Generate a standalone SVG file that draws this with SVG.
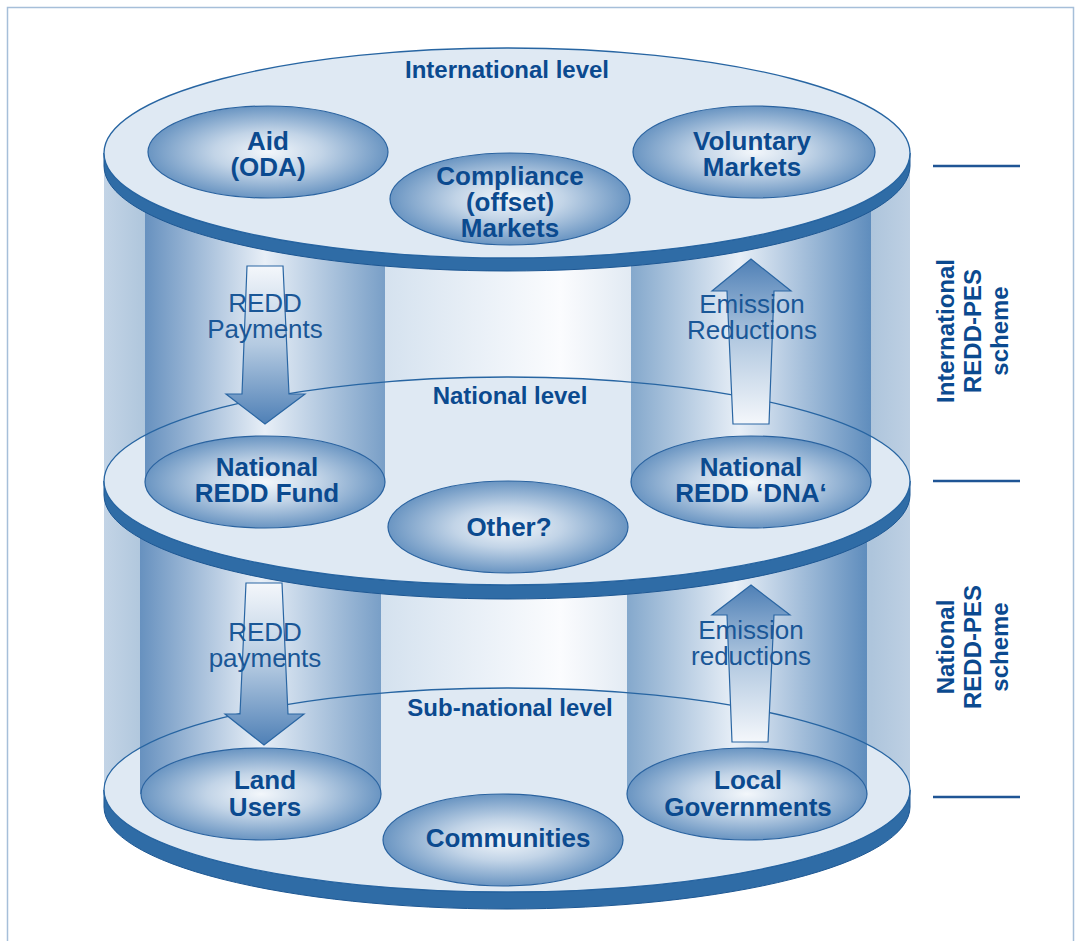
<svg xmlns="http://www.w3.org/2000/svg" width="1078" height="941" viewBox="0 0 1078 941">
<defs>
<linearGradient id="gBody" x1="0" y1="0" x2="1" y2="0">
<stop offset="0" stop-color="#c3d4e6"/>
<stop offset="0.051" stop-color="#afc6dc"/>
<stop offset="0.349" stop-color="#d5e2ef"/>
<stop offset="0.566" stop-color="#fbfcfe"/>
<stop offset="0.653" stop-color="#e2eaf3"/>
<stop offset="0.952" stop-color="#aec5dc"/>
<stop offset="1" stop-color="#bed0e3"/>
</linearGradient>
<linearGradient id="gColL" x1="0" y1="0" x2="1" y2="0">
<stop offset="0" stop-color="#6791bf"/>
<stop offset="0.5" stop-color="#e8eff7"/>
<stop offset="1" stop-color="#799fc7"/>
</linearGradient>
<linearGradient id="gColR" x1="0" y1="0" x2="1" y2="0">
<stop offset="0" stop-color="#84a8cc"/>
<stop offset="0.45" stop-color="#e8eff7"/>
<stop offset="1" stop-color="#5f8dbd"/>
</linearGradient>
<radialGradient id="gNode" cx="0.5" cy="0.5" r="0.5">
<stop offset="0" stop-color="#f3f7fb"/>
<stop offset="0.45" stop-color="#c2d4e7"/>
<stop offset="1" stop-color="#6a95c2"/>
</radialGradient>
<linearGradient id="gDown" x1="0" y1="0" x2="0" y2="1">
<stop offset="0" stop-color="#f4f7fb"/>
<stop offset="0.5" stop-color="#b4cae1"/>
<stop offset="1" stop-color="#4f80b6"/>
</linearGradient>
<linearGradient id="gUp" x1="0" y1="1" x2="0" y2="0">
<stop offset="0" stop-color="#f4f7fb"/>
<stop offset="0.5" stop-color="#b4cae1"/>
<stop offset="1" stop-color="#4f80b6"/>
</linearGradient>
<style>
.band{fill:#2f6ca6;stroke:#1d5793;stroke-width:1}
.surf{fill:#dfe9f3}
.outl{fill:none;stroke:#2765a2;stroke-width:1.3}
.colL{fill:url(#gColL)}
.colR{fill:url(#gColR)}
.node ellipse{fill:url(#gNode);stroke:#2a63a0;stroke-width:1.2}
.arrow{stroke:#2a66a3;stroke-width:1.2}
.nb{font-family:"Liberation Sans",Arial,sans-serif;font-weight:bold;font-size:26px;fill:#0b4a8f;text-anchor:middle}
.lv{font-family:"Liberation Sans",Arial,sans-serif;font-weight:bold;font-size:24px;fill:#0b4a8f;text-anchor:middle}
.fl{font-family:"Liberation Sans",Arial,sans-serif;font-size:26px;fill:#1a5797;text-anchor:middle}
.vt{font-family:"Liberation Sans",Arial,sans-serif;font-weight:bold;font-size:24px;fill:#0b4a8f;text-anchor:middle}
.rule{stroke:#1f5595;stroke-width:2.5}
</style>
</defs>
<rect width="1078" height="941" fill="#ffffff"/>
<path d="M7.5,941 V7.5 H1073.5 V941" fill="none" stroke="#a6bfd9" stroke-width="1.5"/>

<g id="cylinder">
<rect x="104" y="153" width="806" height="637" fill="url(#gBody)"/>
<!-- bottom disk -->
<path class="band" d="M104,790 A403,102 0 0 0 910,790 V807 A403,102 0 0 1 104,807 Z"/>
<ellipse class="surf" cx="507" cy="790" rx="403" ry="102"/>
<!-- lower columns -->
<rect class="colL" x="140" y="481" width="241" height="313"/>
<rect class="colR" x="627" y="481" width="240" height="313"/>
<ellipse class="outl" cx="507" cy="790" rx="403" ry="102"/>
<!-- middle disk -->
<path class="band" d="M104,481 A403,104 0 0 0 910,481 V495 A403,104 0 0 1 104,495 Z"/>
<ellipse class="surf" cx="507" cy="481" rx="403" ry="104"/>
<!-- upper columns -->
<rect class="colL" x="145" y="153" width="240" height="329"/>
<rect class="colR" x="631" y="153" width="240" height="329"/>
<ellipse class="outl" cx="507" cy="481" rx="403" ry="104"/>
<!-- top disk -->
<path class="band" d="M104,153 A403,105 0 0 0 910,153 V166 A403,105 0 0 1 104,166 Z"/>
<ellipse class="surf" cx="507" cy="153" rx="403" ry="105"/>
<ellipse class="outl" cx="507" cy="153" rx="403" ry="105"/>
</g>

<g id="connectors">
<polygon class="arrow" fill="url(#gDown)" points="247,266 283,266 289,394 305,394 265,424 226,394 242,394"/>
<polygon class="arrow" fill="url(#gUp)" points="751,259 791,291 774,291 769,424 733,424 727,291 712,291"/>
<polygon class="arrow" fill="url(#gDown)" points="246,583 282,583 288,714 304,714 264,745 225,714 240,714"/>
<polygon class="arrow" fill="url(#gUp)" points="751,585 790,615 774,615 768,742 732,742 727,615 712,615"/>
<text class="fl" x="265" y="312">REDD</text>
<text class="fl" x="265" y="338">Payments</text>
<text class="fl" x="752" y="313">Emission</text>
<text class="fl" x="752" y="339">Reductions</text>
<text class="fl" x="265" y="641">REDD</text>
<text class="fl" x="265" y="667">payments</text>
<text class="fl" x="751" y="639">Emission</text>
<text class="fl" x="751" y="665">reductions</text>
</g>

<g id="node-aid" class="node">
<ellipse cx="268" cy="152" rx="120" ry="46"/>
<text class="nb" x="268" y="150">Aid</text>
<text class="nb" x="268" y="176">(ODA)</text>
</g>
<g id="node-compliance" class="node">
<ellipse cx="510" cy="199" rx="120" ry="46"/>
<text class="nb" x="510" y="185">Compliance</text>
<text class="nb" x="510" y="211">(offset)</text>
<text class="nb" x="510" y="237">Markets</text>
</g>
<g id="node-voluntary" class="node">
<ellipse cx="754" cy="152" rx="121" ry="46"/>
<text class="nb" x="752" y="150">Voluntary</text>
<text class="nb" x="752" y="176">Markets</text>
</g>
<g id="node-fund" class="node">
<ellipse cx="265" cy="482" rx="120" ry="46"/>
<text class="nb" x="267" y="476">National</text>
<text class="nb" x="267" y="502">REDD Fund</text>
</g>
<g id="node-other" class="node">
<ellipse cx="508" cy="527" rx="120" ry="46"/>
<text class="nb" x="509" y="536">Other?</text>
</g>
<g id="node-dna" class="node">
<ellipse cx="751" cy="482" rx="120" ry="46"/>
<text class="nb" x="751" y="476">National</text>
<text class="nb" x="751" y="502">REDD ‘DNA‘</text>
</g>
<g id="node-landusers" class="node">
<ellipse cx="261" cy="794" rx="120" ry="46"/>
<text class="nb" x="265" y="789">Land</text>
<text class="nb" x="265" y="816">Users</text>
</g>
<g id="node-communities" class="node">
<ellipse cx="503" cy="840" rx="120" ry="46"/>
<text class="nb" x="508" y="847">Communities</text>
</g>
<g id="node-localgov" class="node">
<ellipse cx="747" cy="794" rx="120" ry="46"/>
<text class="nb" x="748" y="789">Local</text>
<text class="nb" x="748" y="816">Governments</text>
</g>

<g id="levels">
<text class="lv" x="507" y="78">International level</text>
<text class="lv" x="510" y="404">National level</text>
<text class="lv" x="510" y="716">Sub-national level</text>
</g>

<g id="schemes">
<line class="rule" x1="933" y1="166" x2="1020" y2="166"/>
<line class="rule" x1="933" y1="481" x2="1020" y2="481"/>
<line class="rule" x1="933" y1="797" x2="1020" y2="797"/>
<g transform="translate(954,331) rotate(-90)"><text class="vt" x="0" y="0">International</text></g>
<g transform="translate(981,331) rotate(-90)"><text class="vt" x="0" y="0">REDD-PES</text></g>
<g transform="translate(1008,331) rotate(-90)"><text class="vt" x="0" y="0">scheme</text></g>
<g transform="translate(954,647) rotate(-90)"><text class="vt" x="0" y="0">National</text></g>
<g transform="translate(981,647) rotate(-90)"><text class="vt" x="0" y="0">REDD-PES</text></g>
<g transform="translate(1008,647) rotate(-90)"><text class="vt" x="0" y="0">scheme</text></g>
</g>
</svg>
